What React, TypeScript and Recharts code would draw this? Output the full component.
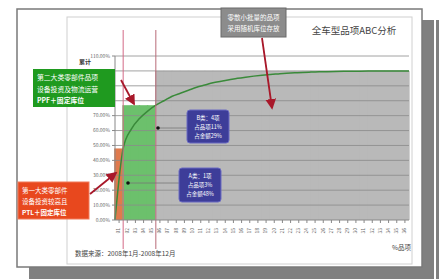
import { ComposedChart, Bar, Line, XAxis, YAxis, ReferenceLine, Cell } from 'recharts';

// item codes on the category axis
const items = [
  '01', '02', '03', '04', '05', '06', '07', '08', '09', '10', '11', '12',
  '13', '14', '15', '16', '17', '18', '19', '20', '21', '22', '23', '24',
  '25', '26', '27', '28', '29', '30', '31', '32', '33', '34', '35', '36',
];

// ABC classes: how many items each holds, and its cumulative share of value
const classNames = ['A', 'B', 'C'];
const classSizes = [1, 4, 31];
const classLevels = [48, 77, 100];
const classColors = ['#e07a4c', '#6cc06c', '#b9b9b9'];

// cumulative value share (%) after n items, n = 0..36
const cumulative = [
  0, 48, 61, 68, 73, 77, 80, 83, 85, 87, 89, 90.5, 92, 93, 94, 95, 95.8,
  96.5, 97.1, 97.6, 98, 98.4, 98.7, 99, 99.2, 99.4, 99.5, 99.6, 99.7, 99.8,
  99.85, 99.9, 99.93, 99.96, 99.98, 99.99, 100,
];

const yTicks = [0, 10, 20, 30, 40, 50, 60, 70, 80, 90, 100, 110];

const barData = items.map((item, i) => {
  let acc = 0;
  let k = 0;
  for (; k < classSizes.length; k++) {
    acc += classSizes[k];
    if (i < acc) break;
  }
  return { item, cls: classNames[k], level: classLevels[k], color: classColors[k] };
});

const lineData = cumulative.map((pct, n) => ({ n, pct }));
const boundaries = [classSizes[0], classSizes[0] + classSizes[1]];
const boundaryColors = ['#d46a86', '#b86a78'];

const FONT = '"Noto Sans CJK SC", "Noto Sans", sans-serif';

function ItemTick(props: any) {
  const { x, y, payload } = props;
  return (
    <text
      x={x}
      y={y + 3}
      transform={`rotate(-90 ${x} ${y + 3})`}
      textAnchor="end"
      dominantBaseline="middle"
      fontSize={5}
      fill="#666"
      fontFamily={FONT}
    >
      {payload.value}
    </text>
  );
}

function BoundaryLine(props: any) {
  const { x1, y1, x2, y2, stroke } = props;
  return <line x1={x1} y1={Math.min(y1, y2) - 26} x2={x2} y2={Math.max(y1, y2) + 29} stroke={stroke} strokeWidth={1} />;
}

// bars of one class sit edge to edge; a fill-coloured edge hides the seams
function ClassBar(props: any) {
  const { x, y, width, height, payload } = props;
  if (!height) return null;
  return <rect x={x - 0.8} y={y} width={width + 1.6} height={height} fill={payload.color} />;
}

export default function App() {
  return (
    <div style={{ position: 'absolute', left: 0, top: 0, width: 439, height: 279, background: '#fff', fontFamily: FONT }}>
      <svg width={439} height={279} style={{ position: 'absolute', left: 0, top: 0 }}>
        <rect x={29} y={20} width={405} height={259} fill="#808080" />
        <rect x={436} y={20} width={3} height={259} fill="#808080" />
        <rect x={17} y={9} width={405} height={258} fill="#fff" stroke="#7a7a7a" strokeWidth={1.5} />
        <rect x={67} y={17} width={345} height={247} fill="none" stroke="#d0d0d0" />
      </svg>
      <div style={{ position: 'absolute', left: 0, top: 0 }}>
        <ComposedChart
          width={439}
          height={279}
          data={barData}
          barCategoryGap={0}
          margin={{ top: 56, right: 30, bottom: 37, left: 85 }}
        >
          <XAxis
            xAxisId="cat"
            dataKey="item"
            interval={0}
            height={22}
            tick={<ItemTick />}
            tickLine={{ stroke: '#888' }}
            tickSize={3}
            axisLine={{ stroke: '#888' }}
          />
          <XAxis xAxisId="line" type="number" dataKey="n" domain={[0, items.length]} hide />
          <YAxis
            width={30}
            domain={[0, 110]}
            ticks={yTicks}
            tickFormatter={(v: number) => `${v.toFixed(2)}%`}
            tick={{ fontSize: 5, fill: '#666', fontFamily: FONT }}
            tickSize={3}
            tickLine={{ stroke: '#888' }}
            axisLine={{ stroke: '#888' }}
            interval={0}
          />
          <Bar xAxisId="cat" dataKey="level" isAnimationActive={false} shape={<ClassBar />}>
            {barData.map((d) => (
              <Cell key={d.item} fill={d.color} />
            ))}
          </Bar>
          {yTicks.slice(1).map((t) => (
            <ReferenceLine key={t} xAxisId="cat" y={t} stroke="#8a8a8a" strokeWidth={0.8} />
          ))}
          <Line
            xAxisId="line"
            data={lineData}
            dataKey="pct"
            type="monotone"
            stroke="#3a8a3a"
            strokeWidth={1.5}
            dot={false}
            isAnimationActive={false}
          />
          {boundaries.map((b, i) => (
            <ReferenceLine key={b} xAxisId="line" x={b} stroke={boundaryColors[i]} shape={<BoundaryLine />} />
          ))}
        </ComposedChart>
      </div>
      <svg width={439} height={279} style={{ position: 'absolute', left: 0, top: 0 }} fontFamily={FONT}>
        <defs>
          <marker id="ah" markerWidth={6} markerHeight={6} refX={5} refY={3} orient="auto">
            <path d="M0,0 L6,3 L0,6 z" fill="#a8182a" />
          </marker>
        </defs>
        <text x={354} y={34} textAnchor="middle" fontSize={9.5} fill="#444">全车型品项ABC分析</text>

        <rect x={221} y={8} width={65} height={29} fill="#8c8c8c" stroke="#6a6a6a" />
        <text x={253.5} y={20} textAnchor="middle" fontSize={6.5} fill="#fff">零散小批量的品项</text>
        <text x={253.5} y={31} textAnchor="middle" fontSize={6.5} fill="#fff">采用随机库位存放</text>
        <line x1={262} y1={38} x2={272} y2={108} stroke="#a8182a" strokeWidth={1.8} markerEnd="url(#ah)" />

        <rect x={33} y={69} width={82} height={38} fill="#1f9a1f" />
        <text x={37} y={80} fontSize={6.8} fill="#fff">第二大类零部件品项</text>
        <text x={37} y={91.5} fontSize={6.8} fill="#fff">设备投资及物流运营</text>
        <text x={37} y={103} fontSize={6.8} fill="#fff" fontWeight="bold">PPF＋固定库位</text>
        <line x1={121} y1={80} x2={134} y2={104} stroke="#a8182a" strokeWidth={1.8} markerEnd="url(#ah)" />

        <rect x={18} y={182} width={71} height={37} fill="#e8481e" stroke="#f07a5a" />
        <text x={22} y={193} fontSize={6.5} fill="#fff">第一大类零部件</text>
        <text x={22} y={204} fontSize={6.5} fill="#fff">设备投资较高且</text>
        <text x={22} y={215} fontSize={6.5} fill="#fff" fontWeight="bold">PTL＋固定库位</text>
        <line x1={90} y1={194} x2={116} y2={173} stroke="#a8182a" strokeWidth={1.8} markerEnd="url(#ah)" />

        <line x1={158} y1={128} x2={187} y2={128} stroke="#777" strokeWidth={0.8} />
        <circle cx={158} cy={128} r={1.8} fill="#111" />
        <rect x={187} y={110} width={42} height={33} rx={3} fill="#3d3d99" stroke="#6b6bc2" />
        <text x={208} y={120} textAnchor="middle" fontSize={5.5} fill="#fff">B类：4项</text>
        <text x={208} y={129} textAnchor="middle" fontSize={5.5} fill="#fff">占品项11%</text>
        <text x={208} y={138} textAnchor="middle" fontSize={5.5} fill="#fff">占金额29%</text>

        <line x1={128} y1={183} x2={179} y2={183} stroke="#777" strokeWidth={0.8} />
        <circle cx={128} cy={183} r={1.8} fill="#111" />
        <rect x={179} y={168} width={42} height={34} rx={3} fill="#3d3d99" stroke="#6b6bc2" />
        <text x={200} y={178} textAnchor="middle" fontSize={5.5} fill="#fff">A类：1项</text>
        <text x={200} y={187} textAnchor="middle" fontSize={5.5} fill="#fff">占品项3%</text>
        <text x={200} y={196} textAnchor="middle" fontSize={5.5} fill="#fff">占金额48%</text>

        <text x={79} y={64} fontSize={6} fill="#333" fontWeight="bold">累计</text>
        <text x={75} y={256} fontSize={6.5} fill="#444">数据来源：2008年1月-2008年12月</text>
        <text x={411} y={250} textAnchor="end" fontSize={6.5} fill="#444">%品项</text>
      </svg>
    </div>
  );
}
